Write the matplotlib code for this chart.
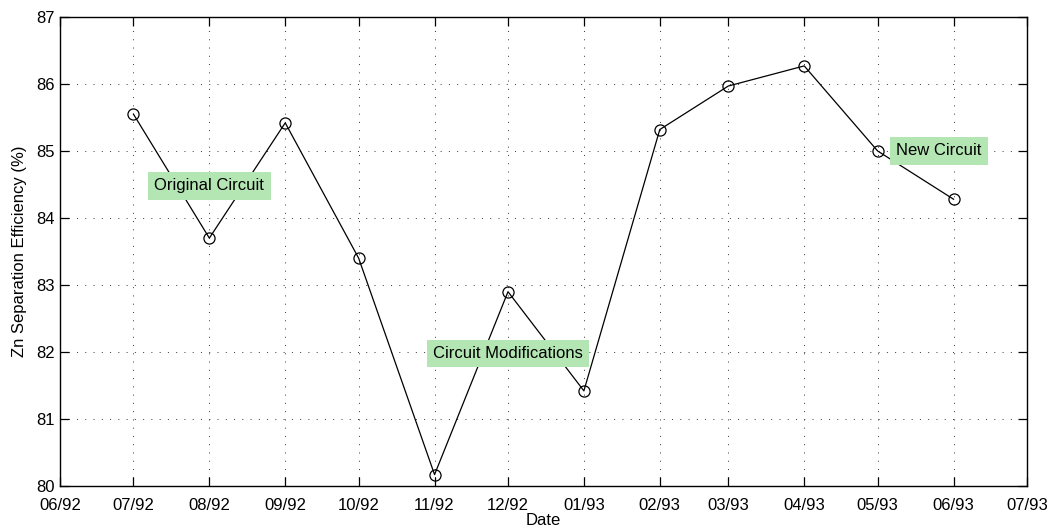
import matplotlib
matplotlib.use("Agg")
import matplotlib.pyplot as plt
import matplotlib.dates as mdates
import datetime as dt

dates = ["1992-07-01", "1992-08-01", "1992-09-01", "1992-10-01", "1992-11-01", "1992-12-01",
         "1993-01-01", "1993-02-01", "1993-03-01", "1993-04-01", "1993-05-01", "1993-06-01"]
efficiency = [85.55, 83.70, 85.42, 83.40, 80.17, 82.90, 81.42, 85.32, 85.97, 86.27, 85.00, 84.28]
tick_dates = ["1992-06-01", "1992-07-01", "1992-08-01", "1992-09-01", "1992-10-01", "1992-11-01",
              "1992-12-01", "1993-01-01", "1993-02-01", "1993-03-01", "1993-04-01", "1993-05-01",
              "1993-06-01", "1993-07-01"]
annotations = [("Original Circuit", "1992-08-01", 84.48),
               ("Circuit Modifications", "1992-12-01", 81.98),
               ("New Circuit", "1993-05-26", 85.0)]

plt.rcParams['font.family'] = ['Liberation Sans', 'DejaVu Sans']

def d(s):
    return dt.datetime.strptime(s, "%Y-%m-%d")

fig = plt.figure(figsize=(10.51, 5.29), dpi=100)
ax = fig.add_axes([60/1051, 1 - 486/529, (1027-60)/1051, (486-17)/529])

x = [d(s) for s in dates]
ax.plot(x, efficiency, color='black', lw=0.9, marker='o', markersize=8,
        markerfacecolor='none', markeredgecolor='black', markeredgewidth=0.9, zorder=3)

ax.set_xlim(d(tick_dates[0]), d(tick_dates[-1]))
ax.set_ylim(80, 87)
ax.set_xticks([d(s) for s in tick_dates])
ax.xaxis.set_major_formatter(mdates.DateFormatter("%m/%y"))
ax.set_yticks(range(80, 88))

ax.grid(True, color='#333333', linestyle=(0, (1, 7.5)), linewidth=0.7)
ax.tick_params(direction='in', top=True, right=True, length=6.5, labelsize=12, width=0.9)
ax.tick_params(axis='y', pad=4)
ax.tick_params(axis='x', pad=8.5)
for s in ax.spines.values():
    s.set_linewidth(1.0)

for txt, xs, yv in annotations:
    ax.text(d(xs), yv, txt, ha='center', va='center', fontsize=12, zorder=4,
            bbox=dict(boxstyle='square,pad=0.38', facecolor='#b3e6b3', edgecolor='none'))

ax.set_xlabel("Date", fontsize=12, labelpad=0)
ax.set_ylabel("Zn Separation Efficiency (%)", fontsize=12, labelpad=6)

fig.savefig("out.png", dpi=100)
